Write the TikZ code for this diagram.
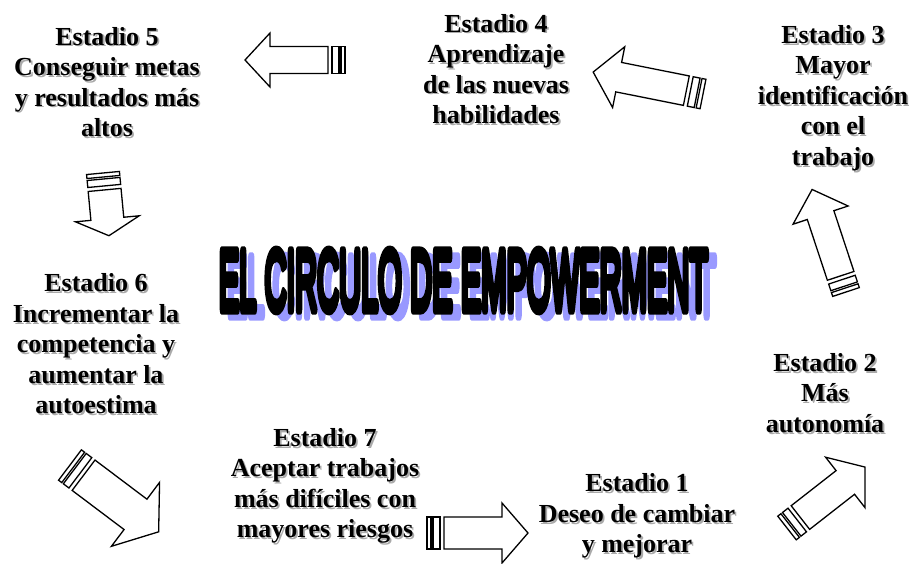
\documentclass[tikz,border=0pt]{standalone}
\usepackage{fontspec}
\setmainfont{Liberation Serif}
\newfontfamily\titlefont[FakeBold=12]{Liberation Sans}
\usetikzlibrary{positioning}

\definecolor{titleshadow}{RGB}{153,153,255}
\definecolor{textshadow}{RGB}{170,170,170}

\newcommand\titlebox{\resizebox{489pt}{59pt}{\titlefont EL CIRCULO DE EMPOWERMENT}}

% stage label with its grey drop shadow: name, position, text
\newcommand\stagelabel[3]{%
  \node[stage, text=textshadow] at ([shift={(1.8,1.8)}]#2) {#3};
  \node[stage] (#1) at (#2) {#3};
}

\tikzset{
  pics/striparrow/.style n args={4}{code={
    % #1 length, #2 half shaft, #3 half head, #4 head length
    \draw[arrowline] (0,-#2) rectangle (4,#2);
    \draw[arrowline] (6,-#2) rectangle (13,#2);
    \draw[arrowline] (17,-#2) -- ({#1-#4},-#2) -- ({#1-#4},-#3) -- (#1,0)
      -- ({#1-#4},#3) -- ({#1-#4},#2) -- (17,#2) -- cycle;
  }}
}

\begin{document}
\begin{tikzpicture}[
  x=1pt, y=-1pt,
  stage/.style={align=center, inner sep=0pt, font=\bfseries\fontsize{26}{30.5}\selectfont},
  title/.style={inner sep=0pt},
  arrowline/.style={line width=1.3pt, line join=miter, fill=white}
]
  \useasboundingbox (0,0) rectangle (909,563);

  \begin{scope}[line join=round]
    \node[title] (heading) at (463.5,280.5)
      {\makebox[0pt][l]{\hspace*{8pt}\raisebox{-6pt}[0pt][0pt]{\color{titleshadow}\titlebox}}\titlebox};
  \end{scope}

  \stagelabel{s1}{637,516}{Estadio 1\\Deseo de cambiar\\y mejorar}
  \stagelabel{s2}{825,393}{Estadio 2\\Más\\autonomía}
  \stagelabel{s3}{833,98}{Estadio 3\\Mayor\\identificación\\con el\\trabajo}
  \stagelabel{s4}{496,69}{Estadio 4\\Aprendizaje\\de las nuevas\\habilidades}
  \stagelabel{s5}{107,82}{Estadio 5\\Conseguir metas\\y resultados más\\altos}
  \stagelabel{s6}{96,344}{Estadio 6\\Incrementar la\\competencia y\\aumentar la\\autoestima}
  \stagelabel{s7}{325,486}{Estadio 7\\Aceptar trabajos\\más difíciles con\\mayores riesgos}

  % arrows round the circle
  \pic[rotate=0] at (427,533) {striparrow={101}{16}{30}{26}};
  \pic[rotate=38] at (787,528) {striparrow={99}{15}{32}{25}};
  \pic[rotate=108.3] at (846,292) {striparrow={108}{14}{29}{27}};
  \pic[rotate=168.7] at (703,94) {striparrow={112}{15}{31}{26}};
  \pic[rotate=180] at (345,60) {striparrow={100}{13.5}{27}{25}};
  \pic[rotate=-84.6] at (103,173) {striparrow={63}{16.5}{32}{17}};
  \pic[rotate=-37] at (70,465) {striparrow={111}{19}{40}{29}};
\end{tikzpicture}
\end{document}
